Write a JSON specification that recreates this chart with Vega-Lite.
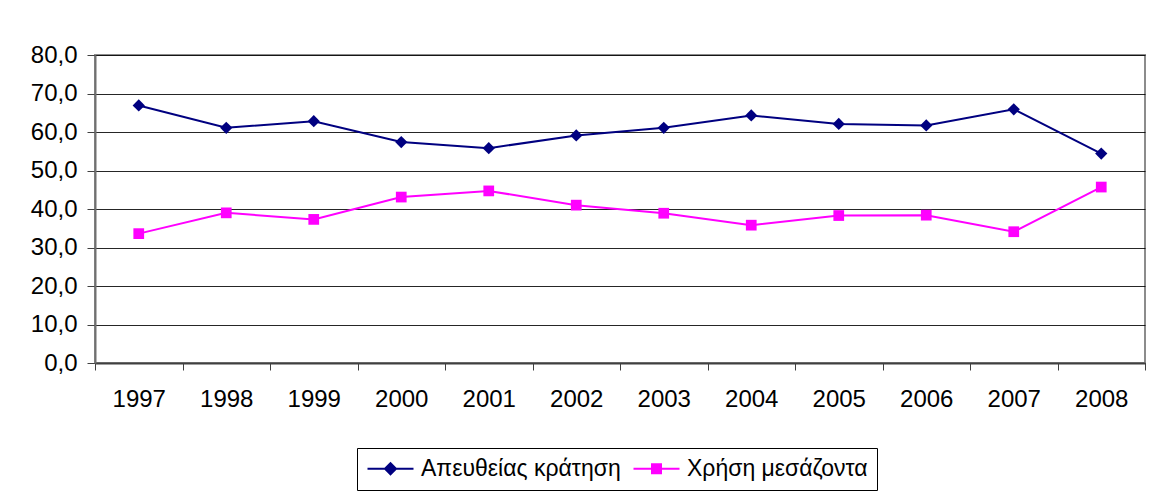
{
  "$schema": "https://vega.github.io/schema/vega-lite/v6.json",
  "width": 1050,
  "height": 308,
  "autosize": {"type": "none"},
  "padding": {"left": 95, "top": 55, "right": 12, "bottom": 132},
  "background": "white",
  "config": {
    "font": "Liberation Sans",
    "view": {"stroke": "#8c8c8c", "strokeWidth": 2},
    "axis": {"labelFont": "Liberation Sans", "labelColor": "black"},
    "legend": {"labelFont": "Liberation Sans", "labelColor": "black"}
  },
  "data": {
    "values": [
      {"year": 1997, "series": "Απευθείας κράτηση", "value": 66.9},
      {"year": 1998, "series": "Απευθείας κράτηση", "value": 61.1},
      {"year": 1999, "series": "Απευθείας κράτηση", "value": 62.8},
      {"year": 2000, "series": "Απευθείας κράτηση", "value": 57.4},
      {"year": 2001, "series": "Απευθείας κράτηση", "value": 55.8},
      {"year": 2002, "series": "Απευθείας κράτηση", "value": 59.1},
      {"year": 2003, "series": "Απευθείας κράτηση", "value": 61.1},
      {"year": 2004, "series": "Απευθείας κράτηση", "value": 64.3},
      {"year": 2005, "series": "Απευθείας κράτηση", "value": 62.1},
      {"year": 2006, "series": "Απευθείας κράτηση", "value": 61.7},
      {"year": 2007, "series": "Απευθείας κράτηση", "value": 65.9},
      {"year": 2008, "series": "Απευθείας κράτηση", "value": 54.4},
      {"year": 1997, "series": "Χρήση μεσάζοντα", "value": 33.6},
      {"year": 1998, "series": "Χρήση μεσάζοντα", "value": 39.0},
      {"year": 1999, "series": "Χρήση μεσάζοντα", "value": 37.3},
      {"year": 2000, "series": "Χρήση μεσάζοντα", "value": 43.1},
      {"year": 2001, "series": "Χρήση μεσάζοντα", "value": 44.7},
      {"year": 2002, "series": "Χρήση μεσάζοντα", "value": 41.0},
      {"year": 2003, "series": "Χρήση μεσάζοντα", "value": 38.9},
      {"year": 2004, "series": "Χρήση μεσάζοντα", "value": 35.8},
      {"year": 2005, "series": "Χρήση μεσάζοντα", "value": 38.3},
      {"year": 2006, "series": "Χρήση μεσάζοντα", "value": 38.4},
      {"year": 2007, "series": "Χρήση μεσάζοντα", "value": 34.1},
      {"year": 2008, "series": "Χρήση μεσάζοντα", "value": 45.7}
    ]
  },
  "encoding": {
    "x": {
      "field": "year",
      "type": "quantitative",
      "scale": {"domain": [1996.5, 2008.5], "nice": false, "zero": false},
      "axis": {
        "title": null,
        "values": [1996.5, 1997.5, 1998.5, 1999.5, 2000.5, 2001.5, 2002.5, 2003.5, 2004.5, 2005.5, 2006.5, 2007.5, 2008.5],
        "labelExpr": "datum.value > 2008 ? '' : toString(datum.value + 0.5)",
        "labelOffset": 43.75,
        "labelFontSize": 24,
        "labelFlush": false,
        "labelOverlap": false,
        "labelBound": false,
        "labelPadding": 17,
        "grid": false,
        "tickSize": 7,
        "tickColor": "#404040",
        "domainColor": "#404040",
        "domainWidth": 2
      }
    },
    "y": {
      "field": "value",
      "type": "quantitative",
      "scale": {"domain": [0, 80], "nice": false},
      "axis": {
        "title": null,
        "values": [0, 10, 20, 30, 40, 50, 60, 70, 80],
        "labelExpr": "replace(format(datum.value, '.1f'), '.', ',')",
        "labelFontSize": 24,
        "grid": true,
        "gridColor": "#000000",
        "gridOpacity": 0.85,
        "tickSize": 8,
        "tickColor": "#404040",
        "domainColor": "#707070",
        "domainWidth": 2,
        "labelPadding": 10
      }
    },
    "color": {
      "field": "series",
      "type": "nominal",
      "scale": {"domain": ["Απευθείας κράτηση", "Χρήση μεσάζοντα"], "range": ["#000080", "#FF00FF"]},
      "legend": {
        "title": null,
        "orient": "none",
        "legendX": 262,
        "legendY": 393,
        "direction": "horizontal",
        "strokeColor": "black",
        "padding": 9,
        "labelFontSize": 23,
        "labelLimit": 400,
        "labelOffset": 32,
        "columnPadding": 8,
        "symbolSize": 400,
        "symbolStrokeWidth": 2,
        "encode": {
          "symbols": {
            "update": {
              "shape": {"signal": "datum.value === 'Απευθείας κράτηση' ? 'M-1,0H3.6M0.75,0L1.3,-0.55L1.85,0L1.3,0.55Z' : 'M-1,0H3.6M0.85,-0.45H1.75V0.45H0.85Z'"},
              "fill": {"scale": "color", "field": "value"},
              "stroke": {"scale": "color", "field": "value"},
              "strokeWidth": {"value": 2},
              "opacity": {"value": 1}
            }
          }
        }
      }
    }
  },
  "layer": [
    {"mark": {"type": "line", "strokeWidth": 2}},
    {
      "transform": [{"filter": "datum.series === 'Απευθείας κράτηση'"}],
      "mark": {"type": "point", "shape": "diamond", "filled": true, "opacity": 1, "size": 150}
    },
    {
      "transform": [{"filter": "datum.series === 'Χρήση μεσάζοντα'"}],
      "mark": {"type": "point", "shape": "square", "filled": true, "opacity": 1, "size": 115}
    }
  ]
}
